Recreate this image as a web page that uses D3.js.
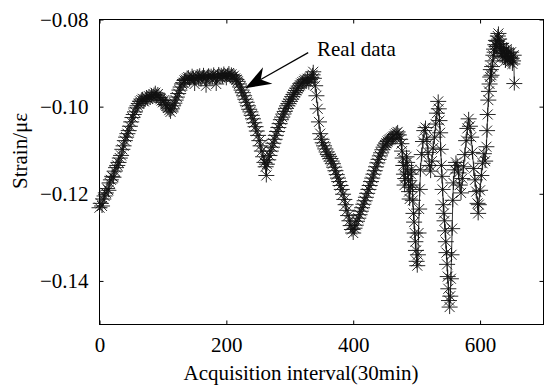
<!DOCTYPE html>
<html>
<head>
<meta charset="utf-8">
<script src="https://cdn.jsdelivr.net/npm/d3@7"></script>
<style>
  html, body { margin: 0; padding: 0; background: #fff; }
  svg { display: block; }
  text { font-family: "Liberation Serif", "Times New Roman", serif; fill: #000; }
</style>
</head>
<body>
<script>
// ---- data ----
const intervals = [
  0,2,4,6,8,10,12,14,16,18,20,22,24,26,28,30,32,34,36,38,40,42,44,46,48,50,52,54,56,58,
  60,62,64,66,68,70,72,74,76,78,80,82,84,86,88,90,92,94,96,98,100,102,104,106,108,110,112,114,116,118,
  120,122,124,126,128,130,132,134,136,138,140,142,144,146,148,150,152,154,156,158,160,162,164,166,168,170,172,174,176,178,
  180,182,184,186,188,190,192,194,196,198,200,202,204,206,208,210,212,214,216,218,220,222,224,226,228,230,232,234,236,238,
  240,242,244,246,248,250,252,254,256,258,260,262,263,264,266,268,270,272,274,276,278,280,282,284,286,288,290,292,294,296,298,
  300,302,304,306,308,310,312,314,316,318,320,322,324,326,328,330,332,334,336,337,338,340,342,344,346,348,350,352,354,356,358,
  360,362,364,366,368,370,372,374,376,378,380,382,384,386,388,390,392,394,396,398,400,402,404,406,408,410,412,414,416,418,
  420,422,424,426,428,430,432,434,436,438,440,442,444,446,448,450,452,454,456,458,460,462,464,466,468,470,
  472,474,476,477,478,479,480,481,482,483,484,485,486,487,488,489,490,491,492,493,494,495,496,497,498,499,500,501,502,503,504,505,506,
  508,510,512,514,516,518,520,522,524,526,528,530,532,534,535,536,537,538,539,540,541,542,543,544,545,546,547,548,549,550,551,552,553,554,555,556,557,558,
  560,562,564,566,568,570,572,574,576,578,580,582,584,586,588,590,592,594,596,597,598,600,602,604,606,608,610,611,612,613,614,615,616,617,618,619,
  620,621,622,623,624,625,626,627,628,629,630,631,632,633,634,635,636,637,638,639,640,641,642,643,644,645,646,647,648,649,650,651,652,653,654
];
const strain = [
  -0.1232,-0.1222,-0.1228,-0.1212,-0.1205,-0.1198,-0.1188,-0.1192,-0.1175,-0.1168,-0.116,-0.1162,-0.1148,-0.114,-0.1135,-0.1128,-0.1118,-0.1112,-0.1098,-0.109,-0.1078,-0.107,-0.1062,-0.1055,-0.1045,-0.1035,-0.1025,-0.1018,-0.1012,-0.1003,
  -0.0998,-0.0993,-0.0988,-0.0985,-0.0982,-0.0988,-0.0984,-0.0978,-0.0982,-0.0976,-0.098,-0.0974,-0.0978,-0.0972,-0.0968,-0.0975,-0.0971,-0.0979,-0.0983,-0.0986,-0.099,-0.0985,-0.0995,-0.0998,-0.1003,-0.1008,-0.1012,-0.1005,-0.0998,-0.0992,
  -0.0985,-0.0978,-0.097,-0.0962,-0.0955,-0.0948,-0.0945,-0.094,-0.0938,-0.0935,-0.0932,-0.0938,-0.0935,-0.0929,-0.0933,-0.0948,-0.0936,-0.093,-0.0934,-0.0928,-0.0938,-0.0932,-0.0927,-0.0935,-0.0952,-0.0931,-0.0928,-0.0934,-0.0929,-0.0933,
  -0.0926,-0.0935,-0.0948,-0.093,-0.0925,-0.0932,-0.0927,-0.0931,-0.0924,-0.0929,-0.0935,-0.0927,-0.0923,-0.093,-0.0926,-0.0932,-0.0929,-0.0935,-0.0938,-0.0942,-0.0948,-0.0955,-0.0962,-0.0968,-0.0975,-0.0983,-0.099,-0.0998,-0.1006,-0.1012,
  -0.102,-0.1028,-0.1037,-0.1046,-0.1056,-0.1066,-0.1078,-0.109,-0.1102,-0.1115,-0.1128,-0.1138,-0.1158,-0.1132,-0.1122,-0.1112,-0.1102,-0.1093,-0.1084,-0.1075,-0.1066,-0.1057,-0.1048,-0.1039,-0.103,-0.1024,-0.1017,-0.1011,-0.1004,-0.0998,-0.0993,
  -0.0988,-0.0983,-0.0977,-0.0972,-0.0968,-0.0963,-0.0958,-0.0955,-0.0951,-0.0947,-0.0944,-0.0941,-0.0938,-0.0943,-0.0936,-0.0945,-0.0938,-0.0933,-0.0927,-0.092,-0.0935,-0.0952,-0.0975,-0.1005,-0.1035,-0.1062,-0.1075,-0.1083,-0.109,-0.1097,-0.1104,
  -0.111,-0.1114,-0.1119,-0.1125,-0.1131,-0.1139,-0.1147,-0.1156,-0.1164,-0.1172,-0.1181,-0.119,-0.1201,-0.1213,-0.1225,-0.1238,-0.125,-0.1262,-0.1273,-0.1282,-0.129,-0.1279,-0.1272,-0.1263,-0.1256,-0.1248,-0.124,-0.1232,-0.1224,-0.1216,
  -0.1208,-0.1199,-0.119,-0.1181,-0.1172,-0.1164,-0.1155,-0.1147,-0.1138,-0.1129,-0.1121,-0.1113,-0.1106,-0.1099,-0.1093,-0.1088,-0.1084,-0.108,-0.1077,-0.1075,-0.1073,-0.1071,-0.1068,-0.1064,-0.1061,-0.1058,
  -0.1065,-0.1075,-0.1085,-0.1102,-0.1118,-0.1135,-0.1155,-0.118,-0.1165,-0.1135,-0.1115,-0.1128,-0.115,-0.117,-0.1195,-0.1212,-0.1185,-0.1155,-0.1145,-0.118,-0.1215,-0.1245,-0.1265,-0.129,-0.131,-0.133,-0.1355,-0.1365,-0.134,-0.129,-0.1235,-0.119,-0.1145,
  -0.111,-0.108,-0.1055,-0.1048,-0.1075,-0.1105,-0.1135,-0.1148,-0.1125,-0.1095,-0.107,-0.104,-0.1015,-0.0988,-0.1005,-0.1032,-0.106,-0.1098,-0.1135,-0.116,-0.119,-0.1225,-0.1245,-0.1262,-0.1285,-0.131,-0.1335,-0.1362,-0.139,-0.1418,-0.1445,-0.146,-0.1435,-0.1395,-0.134,-0.128,-0.1215,-0.1175,
  -0.1145,-0.1128,-0.1135,-0.1152,-0.118,-0.1198,-0.1165,-0.1138,-0.111,-0.1078,-0.105,-0.1028,-0.1045,-0.107,-0.1105,-0.1142,-0.1168,-0.1195,-0.1222,-0.1245,-0.1225,-0.1192,-0.1158,-0.113,-0.1108,-0.1125,-0.1092,-0.1055,-0.1018,-0.0985,-0.0965,-0.0948,-0.0932,-0.0915,-0.0928,-0.0908,
  -0.0895,-0.0882,-0.0868,-0.0875,-0.0858,-0.0848,-0.0862,-0.085,-0.0838,-0.0832,-0.0845,-0.0858,-0.0866,-0.0855,-0.0872,-0.0885,-0.0878,-0.0865,-0.0872,-0.0888,-0.0895,-0.0878,-0.0868,-0.0882,-0.0893,-0.0875,-0.0886,-0.0898,-0.0888,-0.0875,-0.0889,-0.0902,-0.0895,-0.0882,-0.0947
];
const xTicks = [0, 200, 400, 600];
const yTicks = [-0.14, -0.12, -0.10, -0.08];
const xDomain = [0, 700];
const yDomain = [-0.15, -0.08];
const xTitle = "Acquisition interval(30min)";
const yTitle = "Strain/με";
const annotationText = "Real data";
const arrowTail = [329, -0.0876];
const arrowTip = [229.5, -0.0958];
const annotationPos = [343, -0.0884];

// ---- chart ----
(function () {
const W = 545, H = 388;
const pL = 99.5, pR = 543.5, pT = 19.5, pB = 324.5;
const fs = 21;

const svg = d3.select("body").append("svg").attr("width", W).attr("height", H);
svg.append("rect").attr("width", W).attr("height", H).attr("fill", "#fff");

const x = d3.scaleLinear().domain(xDomain).range([pL, pR]);
const y = d3.scaleLinear().domain(yDomain).range([pB, pT]);

svg.append("rect")
  .attr("x", pL).attr("y", pT)
  .attr("width", pR - pL).attr("height", pB - pT)
  .attr("fill", "none").attr("stroke", "#000").attr("stroke-width", 1);

const tl = 4;
const fmtY = d3.format(".2f");
const gx = svg.append("g").attr("transform", `translate(0,${pB})`)
  .call(d3.axisBottom(x).tickValues(xTicks).tickSize(-tl).tickPadding(tl + 9).tickFormat(d3.format("d")));
const gxT = svg.append("g").attr("transform", `translate(0,${pT})`)
  .call(d3.axisTop(x).tickValues(xTicks).tickSize(-tl).tickFormat(""));
const gy = svg.append("g").attr("transform", `translate(${pL},0)`)
  .call(d3.axisLeft(y).tickValues(yTicks).tickSize(-tl).tickPadding(tl + 7).tickFormat(fmtY));
const gyR = svg.append("g").attr("transform", `translate(${pR},0)`)
  .call(d3.axisRight(y).tickValues(yTicks).tickSize(-tl).tickFormat(""));

[gx, gxT, gy, gyR].forEach(g => {
  g.select(".domain").remove();
  g.selectAll("line").attr("stroke", "#000");
  g.selectAll("text").attr("font-size", fs)
    .attr("font-family", '"Liberation Serif", "Times New Roman", serif').attr("fill", "#000");
});

svg.append("text").attr("x", 301).attr("y", 380).attr("text-anchor", "middle")
  .attr("font-size", fs).text(xTitle);
svg.append("text").attr("transform", "translate(27,151) rotate(-90)")
  .attr("text-anchor", "middle").attr("font-size", fs).text(yTitle);

const pts = intervals.map((v, i) => [v, strain[i]]);
svg.append("path")
  .attr("d", d3.line().x(d => x(d[0])).y(d => y(d[1]))(pts))
  .attr("fill", "none").attr("stroke", "#000").attr("stroke-width", 0.8);

const star = "M-8,0H8M0,-7V7M-5,-5L5,5M-5,5L5,-5";
svg.append("g").selectAll("path").data(pts).join("path")
  .attr("transform", d => `translate(${x(d[0])},${y(d[1])})`)
  .attr("d", star).attr("fill", "none").attr("stroke", "#111").attr("stroke-width", 0.9);

const tx = x(arrowTip[0]), ty = y(arrowTip[1]);
const sx = x(arrowTail[0]), sy = y(arrowTail[1]);
const len = Math.hypot(tx - sx, ty - sy);
const ux = (tx - sx) / len, uy = (ty - sy) / len;
const nx = -uy, ny = ux;
const L = 26, Wd = 9.5, notch = 18;
const bx = tx - ux * L, by = ty - uy * L;
const mx = tx - ux * notch, my = ty - uy * notch;
svg.append("line").attr("x1", sx).attr("y1", sy).attr("x2", mx).attr("y2", my)
  .attr("stroke", "#000").attr("stroke-width", 1.2);
svg.append("path")
  .attr("d", `M${tx},${ty}L${bx + nx * Wd},${by + ny * Wd}L${mx},${my}L${bx - nx * Wd},${by - ny * Wd}Z`)
  .attr("fill", "#000");
svg.append("text").attr("x", x(annotationPos[0])).attr("y", y(annotationPos[1]))
  .attr("font-size", fs).text(annotationText);
})();
</script>
</body>
</html>
